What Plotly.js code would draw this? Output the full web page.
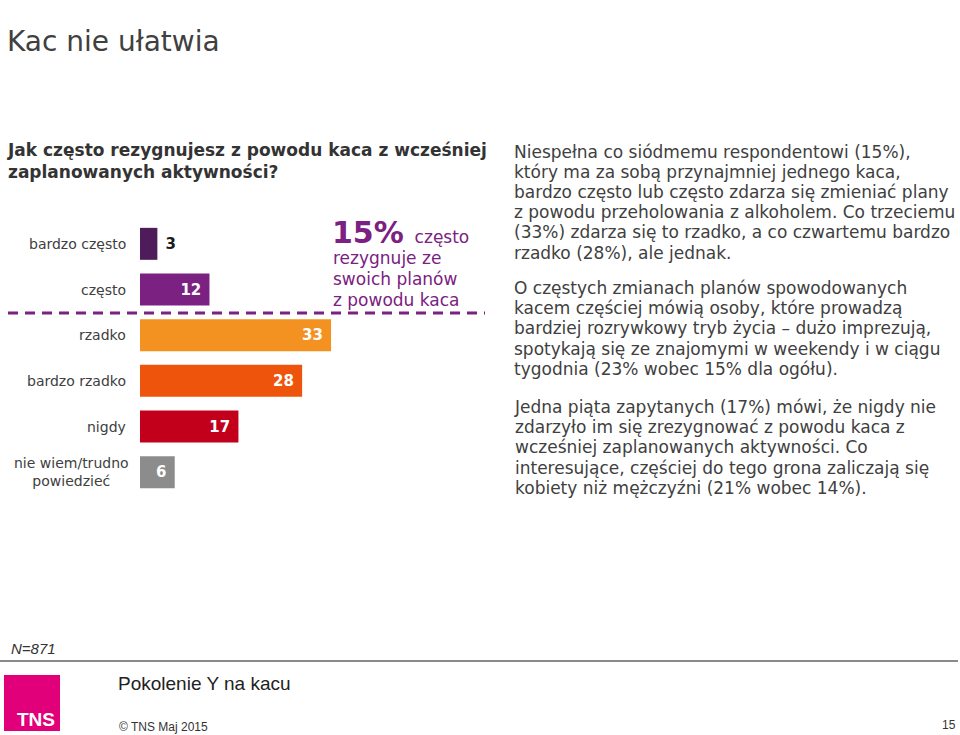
<!DOCTYPE html>
<html><head><meta charset="utf-8">
<script src="https://cdn.plot.ly/plotly-3.0.1.min.js"></script>
<style>html,body{margin:0;padding:0;background:#fff;}#chart{width:960px;height:735px;}</style>
</head><body><div id="chart"></div>
<script>
const categories = ["bardzo często","często","rzadko","bardzo rzadko","nigdy","nie wiem/trudno<br>powiedzieć"];
const values = [3,12,33,28,17,6];
const barColors = ["#4e1c5b","#7b2181","#f39221","#ef540c","#c3001b","#8c8c8c"];
const textPositions = ["outside","inside","inside","inside","inside","inside"];
const textColors = ["#1a1a1a","#ffffff","#ffffff","#ffffff","#ffffff","#ffffff"];

const pageTitle = "Kac nie ułatwia";
const question = "Jak często rezygnujesz z powodu kaca z wcześniej<br>zaplanowanych aktywności?";
const highlightBig = "15%";
const highlightSmall = "często";
const highlightLines = ["rezygnuje ze","swoich planów","z powodu kaca"];
const para1 = ["Niespełna co siódmemu respondentowi (15%),","który ma za sobą przynajmniej jednego kaca,","bardzo często lub często zdarza się zmieniać plany","z powodu przeholowania z alkoholem. Co trzeciemu","(33%) zdarza się to rzadko, a co czwartemu bardzo","rzadko (28%), ale jednak."];
const para2 = ["O częstych zmianach planów spowodowanych","kacem częściej mówią osoby, które prowadzą","bardziej rozrywkowy tryb życia – dużo imprezują,","spotykają się ze znajomymi w weekendy i w ciągu","tygodnia (23% wobec 15% dla ogółu)."];
const para3 = ["Jedna piąta zapytanych (17%) mówi, że nigdy nie","zdarzyło im się zrezygnować z powodu kaca z","wcześniej zaplanowanych aktywności. Co","interesujące, częściej do tego grona zaliczają się","kobiety niż mężczyźni (21% wobec 14%)."];
const sampleNote = "N=871";
const footerTitle = "Pokolenie Y na kacu";
const footerCopy = "© TNS Maj 2015";
const pageNum = "15";
const logoText = "TNS";

const W = 960, H = 735;
const plotL = 140, plotT = 221, plotW = 345, plotH = 274;
const px = x => (x - plotL) / plotW;      // page px -> paper x
const py = y => 1 - (y - plotT) / plotH;  // page px -> paper y

const F = "DejaVu Sans, Verdana, sans-serif";
const FL = "Liberation Sans, Arial, sans-serif";
const grey = "#404040";
const purple = "#7b2181";
const NB = "\u00a0";

const trace = {
  type: "bar", orientation: "h",
  y: categories, x: values,
  marker: {color: barColors},
  text: values.map((v, i) => textPositions[i] === "outside" ? NB + String(v) : String(v) + NB),
  textposition: textPositions,
  insidetextanchor: "end",
  textfont: {family: F, size: 15, color: textColors, weight: "bold"},
  constraintext: "none",
  cliponaxis: false,
  hoverinfo: "skip"
};

const ann = [];
categories.forEach((c) => {
  ann.push({xref: "paper", yref: "y", x: 0, y: c, xanchor: "right", xshift: c.indexOf("<br>") >= 0 ? -9 : -12,
    text: c, showarrow: false, align: "center",
    font: {family: F, size: 14, color: grey}});
});
function addText(t, x, y, size, color, extra) {
  ann.push(Object.assign({xref: "paper", yref: "paper", x: px(x), y: py(y), xanchor: "left", yanchor: "middle",
    text: t, showarrow: false, align: "left", font: {family: F, size: size, color: color}}, extra || {}));
}
// paragraph: line spacing = 1.3 * base size, glyphs drawn at glyphSize
function addPara(lines, x, firstY, spacing, glyphSize, color) {
  const base = spacing / 1.3;
  const txt = lines.map(l => "<span style='font-size:" + glyphSize + "px'>" + l + "</span>").join("<br>");
  const centerY = firstY + (lines.length - 1) * spacing / 2;
  addText(txt, x, centerY, base, color);
}
addText(pageTitle, 5, 41, 28, grey);
addText("<b>" + question + "</b>", 5, 161, 17, "#333333");
addText("<b style='font-size:30px'>" + highlightBig + "</b>" + NB + NB + highlightSmall, 330, 232, 17, purple);
addPara(highlightLines, 331, 258, 21, 17, purple);
addPara(para1, 512, 152, 20.1, 17, grey);
addPara(para2, 512, 288, 20.2, 17, grey);
addPara(para3, 512, 407, 20.2, 17, grey);
addText("<i>" + sampleNote + "</i>", 9, 648, 15, "#333333", {font: {family: FL, size: 15, color: "#333333"}});
addText(footerTitle, 116, 683, 19, "#222222", {font: {family: FL, size: 19, color: "#222222"}});
addText(footerCopy, 117, 727, 12, "#333333", {font: {family: FL, size: 12, color: "#333333"}});
addText(pageNum, 958, 725, 12, "#333333", {xanchor: "right", font: {family: FL, size: 12, color: "#333333"}});
addText("<b>" + logoText + "</b>", 57, 719, 19, "#ffffff", {xanchor: "right", font: {family: "Liberation Sans Narrow, Liberation Sans, Arial, sans-serif", size: 19, color: "#ffffff"}});

const shapes = [
  {type: "line", xref: "paper", yref: "paper", x0: px(8), x1: px(485), y0: py(313), y1: py(313),
   line: {color: purple, width: 3, dash: "10px,7px"}},
  {type: "line", xref: "paper", yref: "paper", x0: px(0), x1: px(958), y0: py(661), y1: py(661),
   line: {color: "#8a8a8a", width: 2}},
  {type: "rect", xref: "paper", yref: "paper", x0: px(4), x1: px(60), y0: py(675), y1: py(731),
   fillcolor: "#e2007a", line: {width: 0}, layer: "below"}
];

const layout = {
  width: W, height: H,
  margin: {l: plotL, t: plotT, r: W - plotL - plotW, b: H - plotT - plotH, autoexpand: false},
  paper_bgcolor: "#ffffff", plot_bgcolor: "#ffffff",
  showlegend: false,
  bargap: 0.3,
  xaxis: {range: [0, plotW / 5.79], visible: false, fixedrange: true},
  yaxis: {autorange: "reversed", showticklabels: false, showgrid: false, zeroline: false, showline: false, ticks: "", fixedrange: true},
  annotations: ann,
  shapes: shapes,
  font: {family: F}
};

Plotly.newPlot("chart", [trace], layout, {displayModeBar: false, staticPlot: true});
</script>
</body></html>
